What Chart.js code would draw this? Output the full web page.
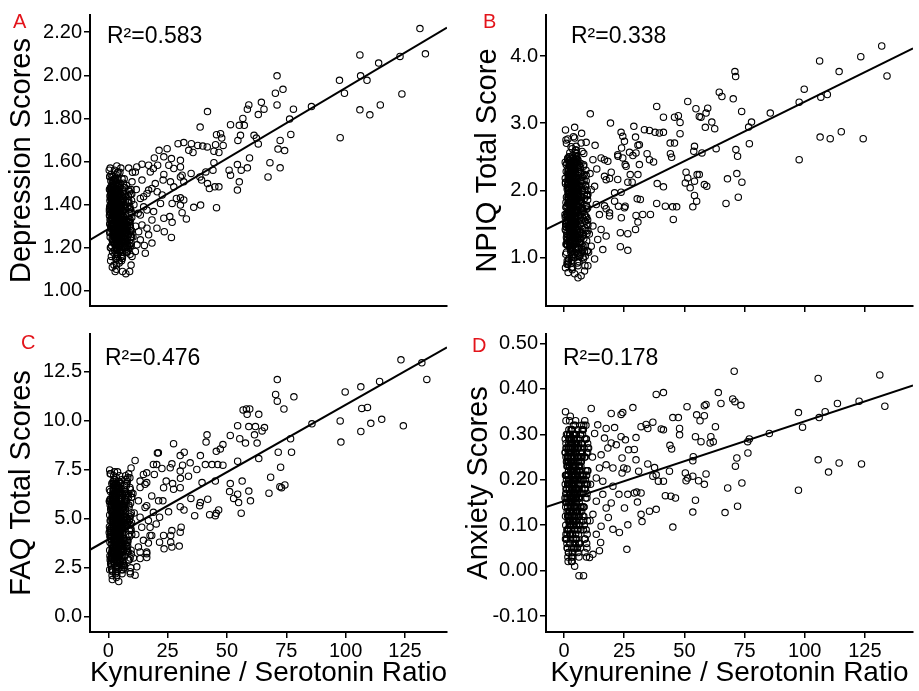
<!DOCTYPE html>
<html>
<head>
<meta charset="utf-8">
<script src="https://cdn.jsdelivr.net/npm/chart.js@4.4.1/dist/chart.umd.min.js"></script>
<style>
  body { margin: 0; background: #fff; }
  #wrap { position: relative; width: 919px; height: 691px; overflow: hidden; }
  .panel { position: absolute; }
</style>
</head>
<body>
<div id="wrap">
  <div class="panel" style="left:0;top:0;width:460px;height:320px"><canvas id="chartA"></canvas></div>
  <div class="panel" style="left:460px;top:0;width:459px;height:320px"><canvas id="chartB"></canvas></div>
  <div class="panel" style="left:0;top:320px;width:460px;height:371px"><canvas id="chartC"></canvas></div>
  <div class="panel" style="left:460px;top:320px;width:459px;height:371px"><canvas id="chartD"></canvas></div>
</div>
<script>
// x tick labels shared by all panels
const ratioTicks = [0, 25, 50, 75, 100, 125];

// y tick labels per panel
const depTicks = [1.0, 1.2, 1.4, 1.6, 1.8, 2.0, 2.2];
const npiqTicks = [1.0, 2.0, 3.0, 4.0];
const faqTicks = [0, 2.5, 5, 7.5, 10, 12.5];
const anxTicks = [-0.1, 0, 0.1, 0.2, 0.3, 0.4, 0.5];

// the dense cluster of low ratios (same subjects in every panel), in three batches
const blobRatio = [
  1.2,2.1,3.4,4.5,1.8,2.9,5.2,3.8,0.9,2.4, 4.1,6.3,1.5,3.1,5.7,2.7,4.8,1.1,3.6,6.8,
  2.2,4.3,1.7,5.0,3.3,7.2,2.6,0.7,4.6,3.9, 1.4,5.5,2.0,6.1,3.0,4.0,1.6,5.9,2.8,7.8,
  3.5,1.0,4.4,2.3,6.5,3.7,5.3,1.9,8.2,2.5, 4.9,3.2,6.0,1.3,4.2,2.9,7.0,5.6,3.4,1.8,
  4.7,2.1,6.6,3.8,0.8,5.1,2.6,4.0,8.8,3.0, 1.5,5.8,2.4,4.5,6.9,3.6,1.2,7.5,2.8,5.4,
  4.1,1.7,3.3,6.2,2.0,9.3,4.8,3.1,1.1,5.0, 2.7,7.3,3.9,1.6,4.4,6.4,2.2,8.0,3.5,5.2,
  0.6,4.6,2.5,9.8,3.7,1.9,5.7,2.9,4.2,6.7, 3.2,1.4,5.9,2.3,7.7,4.9,3.4,1.3,6.0,2.6,
  8.5,4.3,3.0,5.5,2.0,1.0,4.7,3.6,7.1,2.2, 1.8,3.1,4.4,2.7,5.3,3.8,1.5,6.2,2.4,4.1,
  3.3,5.6,2.1,1.2,4.6,3.5,7.4,2.8,5.1,3.9, 1.7,4.0,2.5,6.3,3.2,0.9,4.8,2.9,5.8,3.6
];
const blobRatio2 = [
  2.3,3.1,4.2,1.9,5.0,2.7,3.6,4.8,2.0,3.3, 5.4,2.5,3.9,1.6,4.5,3.0,2.2,5.7,3.4,4.1,
  1.8,2.9,4.6,3.2,6.0,2.4,3.7,5.1,2.1,4.3, 3.5,1.7,4.9,2.8,3.8,5.5,2.6,4.0,3.1,6.4,
  2.0,4.4,3.3,1.5,5.2,2.9,3.6,4.7,2.3,5.9, 3.0,4.1,2.5,3.8,1.8,4.6,3.4,5.3,2.7,4.0,
  6.7,2.2,3.5,4.9,2.9,3.2,5.6,1.9,4.3,3.7, 2.6,4.5,3.1,5.0,2.1,3.9,4.8,2.8,3.3,6.2,
  1.6,4.2,3.6,2.4,5.4,3.0,4.4,2.0,3.8,5.1, 2.7,3.4,4.7,1.7,4.1,3.2,5.8,2.5,3.5,4.6,
  2.2,6.9,3.9,2.9,4.3,1.9,3.1,5.2,2.6,4.0, 3.7,2.3,4.9,3.3,5.5,2.8,4.2,1.8,3.6,4.8,
  3.0,5.7,2.1,4.5,3.4,2.5,6.1,3.8,2.0,4.4, 3.2,4.7,2.7,5.3,1.6,3.5,4.1,2.9,5.0,3.9,
  2.4,4.6,3.1,6.5,2.2,3.7,4.3,2.8,5.6,3.3, 1.9,4.0,3.6,2.6,5.1,3.0,4.8,2.3,3.4,4.2
];
const blobRatio3 = [
  0.5,7.6,2.8,9.1,4.9,1.3,6.4,8.3,3.6,0.8, 5.7,9.6,2.2,7.1,4.0,1.0,8.7,6.0,3.2,9.9,
  0.6,5.3,7.9,2.5,6.8,1.5,9.4,4.6,0.9,8.0, 3.9,6.5,1.2,7.3,5.1,9.0,2.0,8.5,0.7,6.2,
  4.4,7.7,1.7,9.3,3.0,5.9,0.5,8.2,6.9,2.6, 9.7,4.7,1.1,7.0,3.5,8.9,0.8,6.6,5.0,2.3,
  7.5,9.2,1.4,4.2,8.6,0.6,6.1,3.3,9.5,5.5, 1.9,7.8,4.8,0.9,8.4,2.9,6.7,9.8,1.3,5.2,
  3.8,7.2,0.4,8.8,6.3,2.1,9.1,4.5,1.6,7.4, 5.8,0.7,8.1,3.4,6.9,9.6,1.0,4.9,7.6,2.7,
  8.7,0.5,5.4,9.3,3.1,6.6,1.8,8.0,4.3,0.8, 7.0,2.4,9.9,5.6,1.2,8.3,3.7,6.4,0.6,9.0,
  4.1,7.9,1.5,6.0,8.6,2.2,9.4,5.0,0.9,7.3, 3.6,8.9,1.1,6.8,4.6,9.7,2.8,7.7,0.7,5.9,
  8.2,3.0,6.2,1.4,9.2,4.0,7.1,0.5,8.5,2.5, 5.3,9.5,1.9,6.5,3.9,8.1,0.8,7.5,4.8,9.8
];

const depBlob = [
  1.32,1.45,1.28,1.38,1.18,1.52,1.26,1.41,1.36,1.22, 1.55,1.33,1.48,1.15,1.44,1.35,1.19,1.27,1.58,1.29,
  1.40,1.31,1.11,1.49,1.24,1.38,1.56,1.42,1.13,1.34, 1.21,1.36,1.30,1.46,1.43,1.26,1.53,1.22,1.17,1.32,
  1.47,1.14,1.42,1.34,1.25,1.20,1.57,1.39,1.41,1.26, 1.35,1.37,1.18,1.45,1.50,1.29,1.48,1.30,1.10,1.33,
  1.24,1.51,1.40,1.30,1.25,1.40,1.44,1.17,1.36,1.33, 1.29,1.52,1.12,1.46,1.21,1.24,1.39,1.27,1.40,1.16,
  1.36,1.43,1.54,1.37,1.24,1.30,1.29,1.46,1.20,1.33, 1.19,1.44,1.52,1.36,1.21,1.30,1.48,1.24,1.32,1.45,
  1.31,1.39,1.38,1.42,1.15,1.26,1.34,1.09,1.33,1.52, 1.42,1.34,1.27,1.43,1.18,1.55,1.36,1.16,1.42,1.31,
  1.47,1.44,1.21,1.23,1.36,1.45,1.32,1.49,1.35,1.28, 1.23,1.38,1.27,1.47,1.31,1.22,1.39,1.28,1.35,1.19,
  1.50,1.14,1.41,1.29,1.37,1.12,1.33,1.25,1.42,1.46, 1.34,1.28,1.51,1.23,1.39,1.20,1.26,1.43,1.31,1.37
];
const depBlob2 = [
  1.30,1.42,1.22,1.36,1.48,1.26,1.34,1.19,1.44,1.31, 1.27,1.51,1.38,1.24,1.33,1.46,1.29,1.40,1.20,1.35,
  1.43,1.25,1.32,1.49,1.37,1.23,1.41,1.28,1.53,1.34, 1.21,1.45,1.30,1.39,1.16,1.43,1.27,1.35,1.47,1.32,
  1.38,1.26,1.50,1.31,1.23,1.41,1.36,1.18,1.44,1.29, 1.33,1.47,1.25,1.40,1.35,1.22,1.46,1.30,1.38,1.27,
  1.34,1.42,1.19,1.31,1.52,1.37,1.24,1.43,1.28,1.39, 1.45,1.21,1.36,1.29,1.48,1.33,1.26,1.40,1.35,1.23,
  1.41,1.30,1.17,1.44,1.32,1.38,1.25,1.49,1.34,1.28, 1.37,1.22,1.43,1.31,1.46,1.27,1.35,1.40,1.20,1.33,
  1.39,1.29,1.45,1.24,1.36,1.50,1.32,1.26,1.42,1.38, 1.30,1.47,1.21,1.34,1.40,1.28,1.44,1.35,1.23,1.37,
  1.43,1.31,1.27,1.39,1.34,1.48,1.25,1.36,1.41,1.29, 1.33,1.20,1.46,1.38,1.30,1.42,1.26,1.35,1.32,1.45,
  1.28,1.40,1.37,1.24,1.31,1.44,1.36,1.22,1.39,1.33, 1.47,1.27,1.34,1.41,1.29,1.37,1.32,1.43,1.25,1.38
];
const depBlob3 = [
  1.35,1.28,1.44,1.22,1.39,1.31,1.50,1.26,1.42,1.33, 1.19,1.47,1.37,1.24,1.55,1.30,1.41,1.16,1.34,1.45,
  1.27,1.38,1.21,1.52,1.32,1.43,1.25,1.36,1.48,1.18, 1.40,1.29,1.54,1.23,1.35,1.46,1.31,1.20,1.44,1.37,
  1.26,1.49,1.33,1.28,1.41,1.15,1.38,1.30,1.45,1.34, 1.22,1.40,1.51,1.27,1.36,1.32,1.47,1.24,1.39,1.43,
  1.29,1.17,1.42,1.35,1.26,1.53,1.31,1.46,1.21,1.38, 1.44,1.28,1.33,1.40,1.19,1.36,1.48,1.25,1.42,1.30,
  1.37,1.23,1.56,1.32,1.45,1.27,1.39,1.34,1.50,1.20, 1.41,1.35,1.29,1.46,1.24,1.37,1.43,1.31,1.18,1.40,
  1.33,1.47,1.26,1.38,1.52,1.22,1.44,1.30,1.36,1.57, 1.28,1.41,1.34,1.25,1.48,1.32,1.19,1.43,1.39,1.27,
  1.45,1.21,1.37,1.30,1.42,1.35,1.26,1.50,1.33,1.40, 1.24,1.38,1.46,1.29,1.14,1.36,1.43,1.31,1.53,1.23,
  1.39,1.34,1.27,1.47,1.32,1.41,1.20,1.37,1.44,1.29, 1.35,1.25,1.49,1.30,1.42,1.22,1.38,1.33,1.45,1.28
];

const npiqBlob = [
  1.65,2.20,1.10,2.45,0.95,1.85,1.40,2.05,1.75,1.25, 2.35,1.55,2.10,0.85,1.95,1.45,2.60,1.20,1.80,1.05,
  2.25,1.60,0.78,2.40,1.35,1.90,2.15,1.50,1.00,2.00, 1.30,1.70,2.50,1.15,2.30,1.85,0.90,1.62,2.08,1.42,
  1.95,1.08,2.42,1.58,1.22,2.18,1.78,0.98,2.55,1.38, 1.72,2.28,1.12,2.02,1.48,2.65,1.28,1.88,0.82,2.12,
  1.52,2.38,1.02,1.68,2.75,1.32,2.22,1.92,1.18,1.56, 2.48,0.88,2.05,1.44,1.82,2.32,1.26,2.58,1.64,1.06,
  1.98,2.26,1.36,0.94,2.44,1.76,1.14,2.16,1.54,2.36, 1.24,2.85,1.46,1.96,0.76,2.06,1.66,1.34,2.52,1.86,
  2.90,1.16,2.24,1.74,1.04,1.94,2.46,1.40,1.84,2.14, 0.96,1.60,2.34,1.30,2.00,1.70,2.62,1.20,1.90,1.50,
  1.10,2.40,1.80,2.10,1.45,2.70,1.62,0.86,2.20,1.38, 2.30,1.58,1.92,1.12,2.50,1.74,2.04,1.28,2.56,1.48,
  1.86,0.92,2.12,1.66,2.42,1.18,1.98,2.28,1.52,2.80, 1.34,1.82,2.18,1.02,1.68,2.38,1.44,2.08,1.26,1.72
];
const npiqBlob2 = [
  1.70,2.10,1.30,1.90,2.40,1.15,1.55,2.25,1.80,1.40, 2.00,1.25,2.35,1.65,1.05,1.95,2.20,1.50,1.85,1.20,
  2.30,1.60,1.35,2.05,1.75,2.50,1.10,1.88,1.45,2.15, 1.58,2.28,1.22,1.92,2.45,1.38,1.72,2.02,1.28,2.38,
  1.82,1.48,2.12,0.92,1.68,2.32,1.42,1.98,1.18,2.22, 1.62,2.42,1.32,1.78,2.08,1.52,1.00,2.18,1.88,1.36,
  2.26,1.66,1.94,1.12,2.36,1.46,1.76,2.04,1.26,2.48, 1.56,1.84,2.14,1.34,2.00,1.64,2.30,1.08,1.90,1.44,
  2.24,1.54,1.74,2.40,1.24,1.98,1.60,2.10,1.40,2.55, 1.80,1.16,2.06,1.70,2.34,1.50,1.86,1.30,2.20,1.62,
  2.44,1.38,1.96,1.78,1.20,2.16,1.52,2.02,1.72,2.28, 1.46,2.38,1.66,1.02,1.92,2.12,1.58,1.82,1.34,2.46,
  1.74,2.08,1.44,2.32,1.64,1.14,1.98,2.22,1.54,1.86, 2.04,1.28,2.42,1.68,1.90,1.48,2.18,1.78,2.60,1.36,
  1.96,1.56,2.26,1.22,1.84,2.14,1.62,2.36,1.42,1.76, 2.00,1.50,2.30,1.70,1.32,2.10,1.88,1.60,2.24,1.80
];
const npiqBlob3 = [
  1.60,2.00,1.20,2.30,1.45,0.95,1.85,2.15,1.35,1.75, 2.45,1.10,1.65,2.05,1.30,1.90,0.88,2.25,1.55,1.40,
  2.10,1.70,1.00,2.35,1.50,1.80,1.25,2.20,1.62,0.98, 1.95,1.38,2.40,1.15,1.72,2.08,1.48,1.88,1.05,2.28,
  1.58,1.32,2.18,1.78,0.92,2.02,1.42,2.38,1.68,1.22, 1.92,2.12,1.52,1.08,2.32,1.62,1.82,1.28,2.48,1.44,
  1.74,2.22,1.18,1.98,1.54,0.85,2.06,1.66,1.36,2.42, 1.86,1.12,2.16,1.46,1.94,1.26,2.34,1.56,1.76,2.04,
  1.34,2.26,1.64,1.02,1.84,2.44,1.40,1.96,1.24,2.14, 1.70,1.50,2.36,1.14,1.80,2.00,1.30,2.52,1.60,1.90,
  1.44,2.18,1.06,1.72,2.30,1.38,1.88,1.58,2.08,1.20, 2.40,1.66,1.48,1.98,0.90,2.24,1.78,1.34,2.12,1.54,
  1.82,1.16,2.46,1.62,2.02,1.42,1.92,1.26,2.28,1.74, 1.52,2.06,1.36,1.86,2.56,1.10,1.68,2.20,1.46,1.96,
  1.28,2.34,1.76,1.56,2.14,1.00,1.84,2.42,1.64,1.32, 2.04,1.50,1.94,1.22,2.26,1.70,1.40,2.10,1.58,1.86
];

const faqBlob = [
  4.5,6.2,3.1,5.6,2.4,7.0,3.8,5.1,4.2,2.8, 6.6,4.0,5.9,2.2,5.3,3.5,7.2,3.0,4.8,2.6,
  6.0,4.4,1.9,6.8,3.3,5.5,7.4,4.1,2.5,5.0, 3.2,4.6,6.4,2.9,6.1,5.2,2.1,4.3,5.8,3.6,
  5.4,2.7,6.9,4.7,3.4,6.3,4.9,2.3,7.1,3.9, 4.4,6.5,2.8,5.7,3.7,6.7,3.1,5.0,2.0,5.9,
  3.8,6.6,2.5,4.5,7.3,3.3,6.2,5.3,2.9,4.2, 6.8,2.2,5.5,3.6,4.9,6.4,3.0,7.0,4.3,2.6,
  5.2,6.0,3.5,2.4,6.9,4.7,2.8,5.8,4.0,6.3, 3.1,7.2,3.9,5.1,1.8,5.6,4.6,3.4,6.7,5.4,
  7.5,2.7,6.1,4.8,2.3,5.3,6.5,3.7,4.9,5.7, 2.5,4.1,6.3,3.2,5.0,4.4,7.1,3.0,5.5,3.8,
  2.9,6.6,4.7,5.9,3.5,7.3,4.2,2.1,6.0,3.6, 6.2,4.0,5.2,2.7,6.8,4.6,5.6,3.3,7.0,3.9,
  4.8,2.4,5.8,4.3,6.5,2.9,5.1,6.1,4.1,7.4, 3.4,4.9,6.0,2.6,4.5,6.4,3.7,5.4,3.1,4.6
];
const faqBlob2 = [
  4.2,5.8,3.3,5.0,6.4,2.9,4.6,6.0,3.7,5.3, 4.0,6.7,3.5,4.8,2.7,5.6,4.4,3.1,6.2,3.9,
  5.1,4.5,2.8,6.5,3.6,5.4,4.1,3.2,5.9,4.7, 3.4,6.1,4.3,5.2,2.6,4.9,5.7,3.8,6.6,4.0,
  3.0,5.5,4.6,3.3,6.3,4.2,5.0,3.7,6.8,4.4, 5.8,3.1,4.8,5.4,3.5,6.0,4.1,2.9,5.2,4.7,
  3.9,6.4,4.5,3.2,5.6,4.9,3.6,6.2,4.3,5.1, 2.8,5.9,4.0,3.4,6.5,4.6,5.3,3.8,6.1,4.2,
  5.5,3.0,4.8,6.7,3.7,5.0,4.4,3.3,5.7,4.1, 6.3,3.5,4.9,5.4,3.1,6.0,4.5,2.7,5.2,4.7,
  3.9,5.8,4.3,6.6,3.4,5.1,4.0,3.6,6.2,4.8, 5.6,3.2,4.6,5.9,3.8,6.4,4.2,3.0,5.3,4.9,
  4.1,6.1,3.5,5.0,4.4,3.3,5.7,4.7,6.8,3.7, 5.4,4.0,3.1,6.3,4.6,5.2,3.9,4.8,2.9,5.5,
  4.3,6.0,3.6,5.1,4.5,3.4,6.5,4.2,5.8,3.8, 4.9,5.3,3.2,6.2,4.4,5.6,4.1,3.5,5.0,4.7
];
const faqBlob3 = [
  4.6,5.9,3.2,6.6,4.1,2.6,5.4,6.2,3.8,4.9, 7.0,3.4,5.1,6.0,2.9,4.4,5.7,3.6,6.8,4.2,
  2.4,5.5,4.7,3.0,6.3,3.9,5.2,6.9,4.5,3.3, 5.8,4.0,2.7,6.4,3.7,5.0,4.8,6.1,3.1,5.6,
  4.3,6.7,3.5,2.2,5.3,4.6,6.5,3.8,5.9,4.0, 3.2,6.2,4.9,5.5,2.8,4.4,6.0,3.6,5.1,7.2,
  4.7,3.0,5.7,4.2,6.3,3.4,5.0,6.8,2.5,4.5, 5.4,3.9,6.6,4.1,3.3,5.8,4.8,6.1,3.7,5.2,
  2.9,6.4,4.3,5.6,3.5,4.9,7.1,3.1,5.3,4.6, 6.0,3.8,5.0,2.6,6.7,4.4,5.5,3.2,6.2,4.0,
  4.7,5.9,3.6,6.5,2.3,5.1,4.2,6.9,3.4,5.7, 4.8,3.0,6.1,4.5,5.4,3.9,6.6,2.7,5.2,4.1,
  6.3,3.5,5.0,4.6,7.3,3.3,5.8,4.3,6.0,3.7, 5.5,4.9,2.8,6.4,4.0,5.3,3.1,6.8,4.4,5.6,
  3.6,6.2,4.7,2.4,5.1,6.5,3.9,5.9,4.2,3.2, 6.0,4.5,5.4,3.4,6.7,4.8,2.9,5.7,4.3,6.3
];

const anxBlob = [
  0.18,0.27,0.08,0.23,0.04,0.31,0.13,0.21,0.16,0.06, 0.29,0.15,0.25,0.03,0.22,0.11,0.33,0.07,0.19,0.05,
  0.26,0.17,0.02,0.30,0.10,0.24,0.34,0.14,0.05,0.20, 0.09,0.18,0.28,0.06,0.26,0.22,0.03,0.16,0.24,0.12,
  0.23,0.07,0.30,0.19,0.10,0.27,0.20,0.04,0.32,0.13, 0.17,0.28,0.08,0.24,0.12,0.29,0.09,0.21,0.02,0.25,
  0.14,0.28,0.06,0.18,0.33,0.11,0.26,0.22,0.07,0.16, 0.30,0.04,0.23,0.12,0.20,0.27,0.09,0.31,0.17,0.05,
  0.21,0.25,0.11,0.03,0.29,0.19,0.08,0.24,0.15,0.26, 0.10,0.32,0.13,0.21,0.01,0.23,0.18,0.11,0.28,0.22,
  0.35,0.06,0.26,0.19,0.04,0.22,0.27,0.12,0.20,0.24, 0.05,0.16,0.27,0.10,0.21,0.17,0.31,0.08,0.23,0.14,
  0.07,0.28,0.19,0.25,0.12,0.30,0.16,0.03,0.25,0.13, 0.26,0.15,0.22,0.07,0.29,0.18,0.23,0.10,0.30,0.14,
  0.20,0.05,0.24,0.17,0.27,0.08,0.21,0.26,0.15,0.32, 0.11,0.19,0.25,0.06,0.18,0.27,0.13,0.22,0.09,0.17
];
const anxBlob2 = [
  0.17,0.24,0.11,0.20,0.28,0.08,0.15,0.26,0.13,0.22, 0.18,0.30,0.10,0.19,0.06,0.25,0.16,0.09,0.27,0.14,
  0.21,0.19,0.07,0.29,0.12,0.23,0.17,0.10,0.26,0.20, 0.11,0.27,0.18,0.22,0.05,0.21,0.25,0.13,0.31,0.16,
  0.09,0.24,0.19,0.12,0.28,0.15,0.22,0.14,0.30,0.18, 0.25,0.10,0.20,0.23,0.12,0.27,0.16,0.07,0.22,0.19,
  0.14,0.29,0.18,0.11,0.24,0.21,0.13,0.27,0.17,0.22, 0.08,0.26,0.15,0.12,0.29,0.19,0.23,0.14,0.26,0.17,
  0.24,0.09,0.20,0.30,0.13,0.21,0.18,0.11,0.25,0.16, 0.28,0.12,0.20,0.23,0.10,0.26,0.19,0.06,0.22,0.20,
  0.15,0.25,0.17,0.29,0.12,0.22,0.16,0.13,0.27,0.20, 0.24,0.11,0.19,0.26,0.14,0.28,0.17,0.09,0.23,0.21,
  0.16,0.27,0.12,0.21,0.18,0.11,0.25,0.19,0.31,0.14, 0.23,0.16,0.10,0.28,0.19,0.22,0.15,0.20,0.07,0.24,
  0.18,0.26,0.13,0.22,0.19,0.12,0.29,0.17,0.25,0.14, 0.20,0.23,0.11,0.27,0.18,0.24,0.16,0.13,0.21,0.19
];
const anxBlob3 = [
  0.19,0.26,0.10,0.29,0.16,0.05,0.23,0.27,0.13,0.21, 0.31,0.08,0.18,0.25,0.11,0.20,0.04,0.28,0.15,0.22,
  0.07,0.24,0.17,0.12,0.30,0.14,0.21,0.32,0.18,0.09, 0.26,0.16,0.06,0.28,0.13,0.22,0.19,0.25,0.10,0.23,
  0.17,0.30,0.12,0.03,0.24,0.20,0.29,0.14,0.27,0.15, 0.11,0.26,0.21,0.23,0.08,0.18,0.28,0.13,0.22,0.33,
  0.20,0.09,0.25,0.16,0.29,0.12,0.19,0.31,0.05,0.17, 0.24,0.14,0.30,0.18,0.10,0.27,0.21,0.26,0.13,0.22,
  0.07,0.28,0.16,0.25,0.12,0.20,0.32,0.09,0.23,0.18, 0.27,0.15,0.21,0.04,0.30,0.17,0.24,0.11,0.28,0.16,
  0.19,0.26,0.13,0.29,0.02,0.22,0.15,0.31,0.12,0.25, 0.20,0.08,0.27,0.17,0.23,0.14,0.30,0.06,0.21,0.16,
  0.28,0.11,0.19,0.24,0.33,0.10,0.26,0.18,0.27,0.13, 0.23,0.20,0.07,0.29,0.15,0.22,0.09,0.31,0.17,0.25,
  0.12,0.28,0.19,0.05,0.21,0.30,0.14,0.26,0.18,0.10, 0.27,0.16,0.24,0.11,0.29,0.20,0.08,0.25,0.17,0.28
];

// remaining points, [ratio, score]
const depScatter = [
  [131.3,2.217],[133.6,2.10],[106,2.095],[113.9,2.057],[122.9,2.088],[97.4,1.977],[106.3,1.998],[109,1.977],
  [99.5,1.917],[123.7,1.914],[106,1.84],[110.2,1.817],[114.6,1.863],[97.7,1.711],[85.6,1.855],[71.1,1.998],
  [70.4,1.917],[73.6,1.935],[71.1,1.863],[78,1.843],[76.4,1.797],[76.9,1.726],[64.5,1.875],[65.6,1.843],
  [63.2,1.818],[59.2,1.863],[58.6,1.843],[56.7,1.80],[55.2,1.768],[57.3,1.768],[51.5,1.771],[41.8,1.832],
  [38.7,1.76],[61.4,1.722],[62.4,1.709],[63.2,1.682],[72.4,1.698],[71.5,1.658],[74.3,1.651],[54.6,1.698],
  [55.7,1.722],[59.5,1.617],[68.1,1.595],[67.3,1.529],[72.4,1.571],[58.6,1.571],[56,1.56],[54.4,1.586],
  [50.9,1.56],[51.5,1.537],[55.2,1.506],[54.4,1.468],[45.6,1.725],[47.3,1.729],[47.8,1.709],[45.2,1.678],
  [48.4,1.675],[44.5,1.648],[46.6,1.642],[44.5,1.595],[44.1,1.56],[41.1,1.552],[38.6,1.529],[39.3,1.514],
  [41.8,1.498],[42.6,1.475],[44.9,1.483],[46.6,1.483],[45.6,1.386],[38.9,1.398],[36,1.388],[37.7,1.675],
  [39.8,1.672],[41.7,1.668],[35,1.683],[33.9,1.652],[35.7,1.642],[31.8,1.688],[29.4,1.683],[34.9,1.545],
  [31.1,1.537],[30.4,1.529],[31.8,1.506],[30.4,1.575],[30.4,1.606],[26.6,1.614],[24.8,1.66],[21.4,1.652],
  [23.4,1.622],[19.4,1.617],[20.8,1.583],[25.5,1.583],[27.6,1.568],[23.4,1.54],[26.2,1.506],[27.6,1.483],
  [23.1,1.514],[19.8,1.498],[30.4,1.432],[31.8,1.422],[28.7,1.429],[26.9,1.406],[30.4,1.398],[31.1,1.363],
  [32.9,1.334],[25.9,1.345],[26.9,1.318],[23.4,1.337],[23.6,1.275],[26.6,1.248],[22,1.406],[19.1,1.368],
  [18.4,1.329],[20.5,1.291],[17,1.26],[18.4,1.222],[15.6,1.175],[15.2,1.211],[16.3,1.291],[17,1.468],
  [18.4,1.475],[16.3,1.452],[14.9,1.437],[13.5,1.429],[14.2,1.514],[12,1.575],[14.2,1.588],[17,1.583],
  [19,1.568],[17.7,1.552],[20.6,1.46],[22.7,1.445],[11.4,1.552],[10,1.506],[14.9,1.39],[13.5,1.352],
  [16.3,1.375],[14.2,1.306],[12.8,1.275],[13.5,1.237],[11.4,1.183],[10,1.16],[12.1,1.214],
  [9.5,1.45],[10.8,1.40],[9.2,1.33],[11.5,1.30],[10.4,1.25],[8.8,1.21],[9.6,1.12],[11.8,1.47],
  [12.6,1.36],[10.2,1.55],[8.6,1.57],[9.0,1.09],[7.4,1.08],[6.0,1.09]
];

const npiqScatter = [
  [132,4.149],[134.2,3.704],[123.3,3.99],[106.2,3.926],[114.3,3.768],[99.8,3.506],[97.7,3.313],[106.7,3.388],
  [109.4,3.427],[97.7,2.458],[106.4,2.794],[110.6,2.77],[115.2,2.873],[124.3,2.77],[85.7,3.15],[77.9,3.017],
  [76.7,2.943],[77,2.696],[71,3.768],[71.3,3.694],[70.3,3.363],[73.8,3.175],[64.5,3.462],[65.6,3.397],
  [59.7,3.224],[59,3.15],[56.2,3.10],[56.9,3.09],[54.8,3.215],[61.4,3.017],[58.7,2.938],[62.6,2.918],
  [51.4,3.323],[38.5,3.249],[41.3,3.09],[45.9,3.09],[47.5,3.111],[48.2,3.012],[48.2,2.844],[44.1,2.705],
  [45.9,2.705],[44.2,2.547],[44.7,2.493],[33.4,2.903],[35.5,2.893],[37.8,2.864],[39.6,2.854],[41.3,2.864],
  [29,2.953],[23.7,2.864],[24.4,2.804],[25.1,2.73],[29.7,2.794],[30.7,2.671],[31.3,2.681],[29.9,2.557],
  [35.5,2.458],[34.5,2.547],[37.2,2.424],[28.6,2.518],[27.2,2.567],[23.9,2.631],[22.3,2.532],[24.4,2.483],
  [31.3,2.384],[27.5,2.236],[30.7,2.236],[28.3,2.122],[26.5,2.122],[25.4,2.384],[25.8,2.359],[22.3,2.162],
  [19.6,2.27],[18.9,2.177],[21,1.964],[23.7,1.974],[25.4,1.766],[25.1,1.741],[22.6,1.766],[23.8,1.593],
  [18.9,1.667],[17.5,1.727],[21,1.84],[30.4,1.875],[31.7,1.865],[29.9,1.628],[32.7,1.643],[30.7,1.529],
  [29.7,1.42],[35.9,1.643],[23.4,1.371],[26.5,1.356],[23.4,1.163],[26.5,1.109],[38.7,2.102],[41.3,2.053],
  [38.5,1.806],[42.1,1.766],[45.1,1.756],[46.8,1.756],[45.4,1.568],[50.7,2.27],[51.4,2.186],[50.4,2.112],
  [52.4,2.038],[54.2,2.137],[55.3,2.236],[56.2,2.236],[54.2,2.656],[53.9,2.582],[57.3,2.557],[58.3,2.087],
  [59.3,2.063],[54.2,1.924],[55.1,1.84],[53.5,1.756],[63.2,2.621],[67.9,2.172],[71.8,2.251],[73.9,2.122],
  [71.4,2.607],[72.1,2.508],[72.4,1.90],[67.3,1.806],[10.9,3.14],[19.3,3.002],[12.9,2.671],
  [12,2.458],[15.4,2.483],[16.8,2.458],[18.2,2.433],[22.4,2.507],[16.8,2.21],[17.5,2.16],[12.7,2.06],
  [11.3,2.01],[9.9,1.94],[13.4,1.79],[16.8,1.77],[14.7,1.64],[18.9,1.62],[12,1.47],[15.4,1.42],
  [17.5,1.32],[14,1.27],[11.3,1.17],[16.1,1.12],[12.7,0.98],[9.9,0.88],[7.1,0.73],[5.8,0.70],
  [8.5,0.80],[10.5,1.35],[9.4,1.60],[10.8,2.25],[13.6,2.32],[10.2,1.08],
  [4.4,2.938],[1.6,2.765],[4.4,2.78],[7.1,2.705],[9.2,2.715],[5,2.656]
];

const faqScatter = [
  [123.3,13.12],[132.1,12.97],[134.2,12.12],[106.4,11.74],[114.3,12.02],[99.8,11.48],[97.7,10.0],[98,8.92],
  [106.8,10.64],[109.2,10.69],[106.4,9.46],[110.6,9.88],[115.2,10.08],[124.3,9.75],[85.8,9.85],[71.2,12.11],
  [70.5,11.35],[71.2,11.01],[74,10.61],[78.2,11.23],[76.8,9.09],[77.2,8.40],[71.6,8.40],[72.6,7.64],
  [68.4,7.13],[67.7,6.31],[72.3,6.64],[74.4,6.73],[73,6.59],[63.4,10.34],[65.8,9.66],[64.8,9.49],
  [62,9.71],[59.2,9.71],[58.2,10.61],[59.6,10.61],[56.8,10.56],[58.5,10.34],[54.5,9.76],[51.4,9.26],
  [55.4,9.09],[57.8,8.87],[61.6,9.29],[62.7,8.87],[63.4,8.08],[41.6,9.29],[41.2,8.92],[48.3,8.79],
  [47.2,8.57],[45.5,8.45],[38.8,8.23],[32,8.40],[30.3,8.23],[27.5,8.84],[20.7,8.36],[40.9,7.77],
  [43.7,7.77],[46.1,7.77],[48.3,7.74],[37.3,7.52],[34.5,7.86],[31.3,7.74],[30.3,7.44],[33.8,7.18],
  [30.4,7.07],[26.8,7.81],[26.1,7.61],[22.6,7.57],[20.4,7.77],[19.4,7.27],[24.4,6.93],[27.1,6.80],
  [27.5,6.51],[30.3,6.59],[23.3,6.59],[39.5,6.85],[45.1,6.93],[54.5,7.94],[56.4,6.93],[51.4,6.80],
  [51.1,6.39],[52.8,6.04],[54.5,6.26],[54.9,5.83],[59.2,6.42],[59.9,5.92],[56,5.29],[34.8,6.04],
  [38.8,5.83],[38.5,5.67],[41.9,6.00],[42.7,5.21],[45.5,5.28],[46.5,5.45],[45.1,5.16],[36.4,5.16],
  [30.3,5.62],[31.9,5.45],[25.4,5.36],[23,5.92],[21.2,5.92],[18.3,6.17],[16.2,5.67],[19,5.33],
  [21.6,5.08],[20.2,4.74],[17.6,4.57],[30.7,4.57],[30.3,4.32],[26.8,4.40],[26.3,4.15],[23.3,4.15],
  [21.6,3.81],[26.3,3.81],[26.8,3.56],[29.9,3.61],[23.5,3.47],[18.3,4.15],[16.9,3.76],[16.2,3.22],
  [13.4,3.31],[16.2,3.02],[11.3,2.12],[11.3,7.98],[16.2,7.35],[13.4,6.93],[15.5,6.76],
  [14.8,7.27],[16.2,6.85],[13.4,6.6],[12.7,5.92],[15.5,5.58],[13.4,5.08],[16.9,4.91],[14.1,4.57],
  [17.6,4.15],[14.8,3.9],[12.7,3.56],[16.2,3.3],[13.4,2.97],[12,2.55],[19,7.78],[21.1,8.37],
  [10.4,6.3],[11.6,4.2],[10.6,3.0],[9.6,7.6],[10.9,5.3],[9.2,2.3]
];

const anxScatter = [
  [70.7,0.439],[105.6,0.423],[131.2,0.431],[133.3,0.362],[122.6,0.373],[113.6,0.368],[108.5,0.35],[106,0.337],
  [97.4,0.348],[99.1,0.316],[85.3,0.302],[77,0.29],[76.3,0.284],[76.4,0.259],[105.6,0.244],[114.3,0.237],
  [123.6,0.235],[109.9,0.217],[97.4,0.177],[70.1,0.378],[71,0.372],[73.5,0.364],[64.1,0.392],[65.2,0.368],
  [59,0.366],[58.3,0.363],[62.9,0.317],[61,0.295],[62,0.284],[60.7,0.281],[58.3,0.341],[56.5,0.33],
  [55.1,0.343],[54.6,0.295],[56.9,0.284],[51.1,0.361],[45.2,0.337],[47.5,0.337],[48,0.313],[48,0.299],
  [44,0.276],[44.7,0.268],[41.3,0.392],[38.3,0.388],[36.9,0.327],[40.4,0.312],[41.3,0.31],[34.1,0.322],
  [32,0.317],[34.8,0.313],[28.6,0.359],[24.4,0.348],[23.7,0.344],[23.7,0.295],[25.5,0.288],[29.9,0.293],
  [29.2,0.267],[26.8,0.266],[29.9,0.244],[24.1,0.248],[24.8,0.226],[26.2,0.224],[24.1,0.215],[31,0.219],
  [34.8,0.235],[37.6,0.227],[38.3,0.211],[36.9,0.208],[39.2,0.197],[41.3,0.197],[43.8,0.219],[53.5,0.242],
  [53.7,0.251],[50.4,0.215],[51.4,0.204],[50.7,0.198],[53.5,0.208],[55.9,0.198],[58.3,0.19],[59,0.213],
  [42.1,0.165],[44.4,0.164],[46.3,0.16],[45.2,0.096],[54.6,0.155],[53.5,0.129],[68,0.182],[71.8,0.248],
  [71.2,0.23],[73.9,0.193],[72.1,0.142],[66.9,0.128],[35.5,0.131],[38.3,0.135],[32,0.124],[32.4,0.108],
  [30.2,0.173],[32,0.171],[29.2,0.171],[30.5,0.151],[26.5,0.168],[25.1,0.138],[23,0.084],[26.5,0.101],
  [26.1,0.047],[22.8,0.168],[20.3,0.186],[19.6,0.149],[17.5,0.138],[20.3,0.091],[18.4,0.117],[15.4,0.098],
  [15.2,0.062],[14.7,0.044],[11.3,0.357],[19.6,0.346],[21,0.315],[17.5,0.313],[14,0.321],[12.7,0.302],
  [16.8,0.292],[19.6,0.281],[21.7,0.277],[18.2,0.27],[15.4,0.255],[17.5,0.233],[20.3,0.226],[14.7,0.226],
  [13.4,0.204],[16.1,0.197],[16.1,0.168],[13.4,0.153],[12,0.124],[13.4,0.08],[12,0.036],[10.6,0.029],
  [6.2,-0.011],[8.1,-0.011],[10.2,0.27],[11.0,0.19],[9.6,0.22],[10.8,0.11],[9.4,0.06],[11.8,0.25]
];

// fitted regression lines, endpoints at the axis limits
const depFit = [[-7.7, 1.237], [142.7, 2.222]];
const npiqFit = [[-7.5, 1.42], [145, 4.114]];
const faqFit = [[-7.7, 3.42], [142.7, 13.76]];
const anxFit = [[-7.5, 0.140], [145, 0.408]];

Chart.defaults.font.family = "'Liberation Sans', Arial, sans-serif";
Chart.defaults.color = '#000';

const panelText = {
  id: 'panelText',
  afterDraw(chart, args, o) {
    const { ctx, chartArea } = chart;
    ctx.save();
    ctx.textBaseline = 'alphabetic';
    ctx.textAlign = 'left';
    ctx.fillStyle = '#e3141b';
    ctx.font = "20px 'Liberation Sans', Arial, sans-serif";
    ctx.fillText(o.letter, o.lx, o.ly);
    ctx.fillStyle = '#000';
    ctx.font = "23px 'Liberation Sans', Arial, sans-serif";
    ctx.fillText(o.r2, chartArea.left + o.rx, chartArea.top + o.ry);
    ctx.restore();
  }
};

function toPoints(xs, ys) {
  return xs.map((x, i) => ({ x: x, y: ys[i] }));
}
function pairs(arr) {
  return arr.map(p => ({ x: p[0], y: p[1] }));
}

function makePanel(id, p) {
  const points = toPoints(blobRatio, p.blob)
    .concat(toPoints(blobRatio2, p.blob2))
    .concat(toPoints(blobRatio3, p.blob3))
    .concat(pairs(p.scatter));
  new Chart(document.getElementById(id).getContext('2d'), {
    type: 'scatter',
    data: {
      datasets: [
        {
          type: 'line',
          data: pairs(p.fit),
          borderColor: '#000',
          borderWidth: 2,
          pointRadius: 0,
          fill: false
        },
        {
          data: points,
          pointRadius: 3.2,
          pointBorderWidth: 1.1,
          pointBorderColor: '#000',
          pointBackgroundColor: 'rgba(0,0,0,0)'
        }
      ]
    },
    options: {
      responsive: true,
      maintainAspectRatio: false,
      animation: false,
      events: [],
      layout: { padding: { left: 0, top: p.padTop, right: p.padRight, bottom: 0 } },
      plugins: {
        legend: { display: false },
        tooltip: { enabled: false },
        panelText: p.text
      },
      scales: {
        x: {
          type: 'linear',
          min: p.xMin,
          max: p.xMax,
          afterBuildTicks: s => { s.ticks = ratioTicks.map(v => ({ value: v })); },
          afterFit: s => { s.height = p.xHeight; },
          grid: { display: p.xMarks, drawOnChartArea: false, tickLength: 6, color: '#000', lineWidth: 1.5 },
          border: { display: true, color: '#000', width: 2 },
          ticks: { display: p.xLabels, font: { size: 20 }, color: '#000', padding: 1, maxRotation: 0, autoSkip: false },
          title: {
            display: p.xLabels,
            text: 'Kynurenine / Serotonin Ratio',
            color: '#000',
            font: { size: 28 },
            padding: { top: 0, bottom: 1 }
          }
        },
        y: {
          min: p.yMin,
          max: p.yMax,
          afterBuildTicks: s => { s.ticks = p.yTicks.map(v => ({ value: v })); },
          afterFit: s => { s.width = p.yWidth; },
          grid: { display: true, drawOnChartArea: false, tickLength: 6, color: '#000', lineWidth: 1.5 },
          border: { display: true, color: '#000', width: 2 },
          ticks: {
            font: { size: 20 },
            color: '#000',
            padding: 2,
            autoSkip: false,
            callback: v => v.toFixed(p.dec)
          },
          title: {
            display: true,
            text: p.yTitle,
            color: '#000',
            font: { size: 29 },
            padding: { top: p.yTitlePad, bottom: 0 }
          }
        }
      }
    },
    plugins: [panelText]
  });
}

makePanel('chartA', {
  blob: depBlob, blob2: depBlob2, blob3: depBlob3, scatter: depScatter, fit: depFit,
  xMin: -7.7, xMax: 142.7, yMin: 0.93, yMax: 2.28, yTicks: depTicks, dec: 2,
  yTitle: 'Depression Scores', yTitlePad: 5, yWidth: 90, xHeight: 12,
  padTop: 15, padRight: 13, xMarks: false, xLabels: false,
  text: { letter: 'A', lx: 13, ly: 28, r2: 'R\u00B2=0.583', rx: 17, ry: 28 }
});

makePanel('chartB', {
  blob: npiqBlob, blob2: npiqBlob2, blob3: npiqBlob3, scatter: npiqScatter, fit: npiqFit,
  xMin: -7.5, xMax: 145, yMin: 0.28, yMax: 4.61, yTicks: npiqTicks, dec: 1,
  yTitle: 'NPIQ Total Score', yTitlePad: 11, yWidth: 86, xHeight: 13,
  padTop: 15, padRight: 6, xMarks: true, xLabels: false,
  text: { letter: 'B', lx: 23, ly: 28, r2: 'R\u00B2=0.338', rx: 25, ry: 28 }
});

makePanel('chartC', {
  blob: faqBlob, blob2: faqBlob2, blob3: faqBlob3, scatter: faqScatter, fit: faqFit,
  xMin: -7.7, xMax: 142.7, yMin: -0.78, yMax: 14.44, yTicks: faqTicks, dec: 1,
  yTitle: 'FAQ Total Scores', yTitlePad: 5, yWidth: 90, xHeight: 59,
  padTop: 12, padRight: 13, xMarks: true, xLabels: true,
  text: { letter: 'C', lx: 21, ly: 29, r2: 'R\u00B2=0.476', rx: 15, ry: 31 }
});

makePanel('chartD', {
  blob: anxBlob, blob2: anxBlob2, blob3: anxBlob3, scatter: anxScatter, fit: anxFit,
  xMin: -7.5, xMax: 145, yMin: -0.135, yMax: 0.521, yTicks: anxTicks, dec: 2,
  yTitle: 'Anxiety Scores', yTitlePad: 2, yWidth: 86, xHeight: 59,
  padTop: 12, padRight: 6, xMarks: true, xLabels: true,
  text: { letter: 'D', lx: 12, ly: 32, r2: 'R\u00B2=0.178', rx: 17, ry: 31 }
});
</script>
</body>
</html>
